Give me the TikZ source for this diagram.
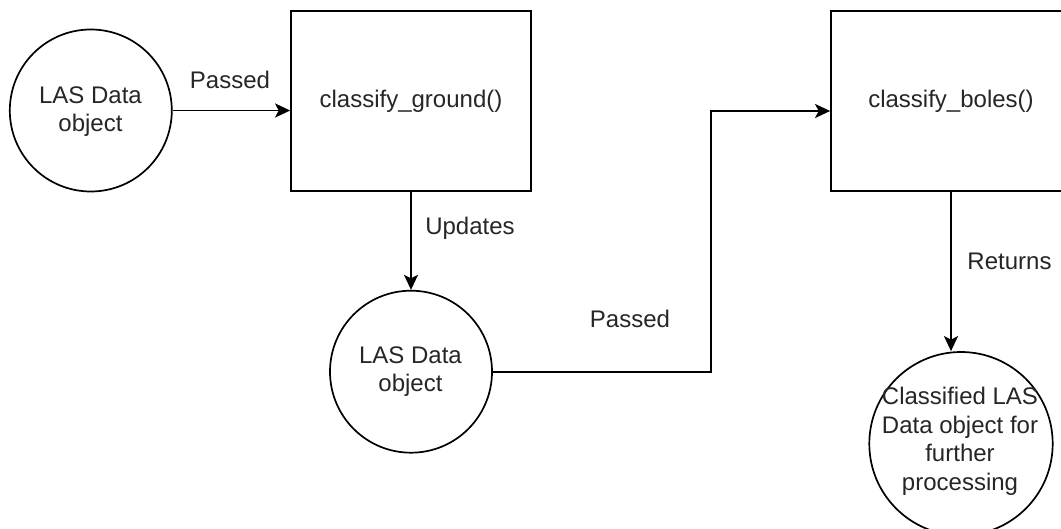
\documentclass[tikz,border=0pt]{standalone}
\usepackage{fontspec}
\setmainfont{Liberation Sans}
\usetikzlibrary{arrows.meta}
\begin{document}
\begin{tikzpicture}[x=1pt,y=-1pt,
  every node/.style={font=\fontsize{24}{28}\selectfont, text=black!85},
  blk/.style={draw, line width=1.7pt, rectangle, minimum width=240pt, minimum height=180pt, inner sep=0pt},
  obj/.style={draw, line width=1.7pt, circle, inner sep=0pt},
  lbl/.style={anchor=base, inner sep=0pt},
  arr/.style={line width=1.7pt, -{Stealth[length=15pt,width=14pt,inset=3.5pt]}},
]
\useasboundingbox (0,0) rectangle (1061,529);
\clip (0,0) rectangle (1061,529);
\fill[white] (0,0) rectangle (1061,529);

% input object
\node[obj, minimum size=162pt] (c1) at (90.8,110.5) {};
\node[lbl] (c1a) at (90.5,103.3) {LAS Data};
\node[lbl] (c1b) at (90.5,131.7) {object};

% ground classification step
\node[blk] (b1) at (411,101) {classify\_ground()};

% updated object
\node[obj, minimum size=162pt] (c2) at (411,371.7) {};
\node[lbl] (c2a) at (410.5,363.3) {LAS Data};
\node[lbl] (c2b) at (410.5,391.7) {object};

% bole classification step
\node[blk] (b2) at (951,101) {classify\_boles()};

% result object
\node[obj, minimum size=183.4pt] (c3) at (961,443.7) {};
\node[lbl] (c3a) at (960,405) {Classified LAS};
\node[lbl] (c3b) at (960,433.3) {Data object for};
\node[lbl] (c3c) at (960,461.7) {further};
\node[lbl] (c3d) at (960,490) {processing};

% connectors
\draw[arr] (c1.east) -- (c1.east -| b1.west);
\node[lbl] (p1) at (230,88.3) {Passed};

\draw[arr] (b1.south) -- (c2.north);
\node[lbl] (u1) at (470,235) {Updates};

\coordinate (elbow) at (711,111);
\draw[arr] (c2.east) -| (elbow) -- (elbow -| b2.west);
\node[lbl] (p2) at (630,327.7) {Passed};

\draw[arr] (b2.south) -- (b2.south |- c3.north);
\node[lbl] (r1) at (1009.5,269.3) {Returns};
\end{tikzpicture}
\end{document}
